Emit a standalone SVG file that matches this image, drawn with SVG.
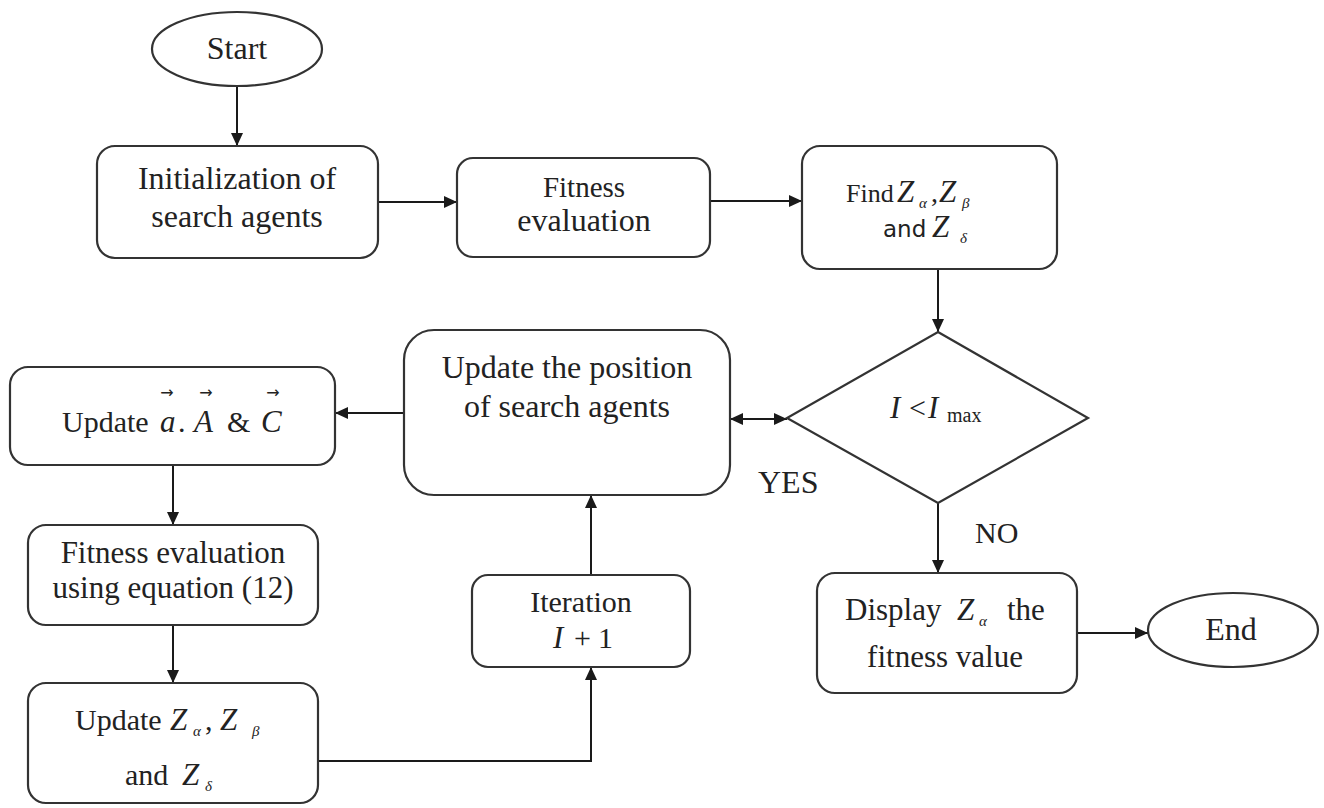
<svg xmlns="http://www.w3.org/2000/svg" width="1324" height="808" viewBox="0 0 1324 808">
<defs>
<marker id="ah" viewBox="0 0 13 12" refX="13" refY="6" markerWidth="13" markerHeight="12" markerUnits="userSpaceOnUse" orient="auto-start-reverse">
<path d="M0,0 L13,6 L0,12 z" fill="#1a1a1a"/>
</marker>
<style>
.box{fill:#fff;stroke:#333;stroke-width:2.2}
.ln{fill:none;stroke:#1a1a1a;stroke-width:2}
.t{font-family:"Liberation Serif","Times New Roman",serif;font-size:32px;fill:#222}
.s{font-family:"DejaVu Sans",Verdana,sans-serif;font-size:23px;fill:#222}
.m{font-family:"Liberation Serif","Times New Roman",serif;font-style:italic;font-size:31px;fill:#222}
.sub{font-size:15px}
.ar{font-family:"DejaVu Sans",sans-serif;font-size:16px;fill:#222}
</style>
</defs>
<rect width="1324" height="808" fill="#fff"/>

<g id="connectors">
<line class="ln" x1="237" y1="86" x2="237" y2="146" marker-end="url(#ah)"/>
<line class="ln" x1="378" y1="202" x2="457" y2="202" marker-end="url(#ah)"/>
<line class="ln" x1="710" y1="201" x2="802" y2="201" marker-end="url(#ah)"/>
<line class="ln" x1="938" y1="269" x2="938" y2="332" marker-end="url(#ah)"/>
<line class="ln" x1="730" y1="419" x2="787" y2="419" marker-start="url(#ah)" marker-end="url(#ah)"/>
<line class="ln" x1="404" y1="413" x2="335" y2="413" marker-end="url(#ah)"/>
<line class="ln" x1="173" y1="465" x2="173" y2="525" marker-end="url(#ah)"/>
<line class="ln" x1="173" y1="625" x2="173" y2="683" marker-end="url(#ah)"/>
<polyline class="ln" points="318,761 591,761 591,667" marker-end="url(#ah)"/>
<line class="ln" x1="591" y1="575" x2="591" y2="495" marker-end="url(#ah)"/>
<line class="ln" x1="938" y1="503" x2="938" y2="573" marker-end="url(#ah)"/>
<line class="ln" x1="1077" y1="633" x2="1148" y2="633" marker-end="url(#ah)"/>
<text class="t" x="758" y="493">YES</text>
<text class="t" x="975" y="543" style="font-size:30px">NO</text>
</g>

<g id="start">
<ellipse class="box" cx="237" cy="49" rx="85" ry="37"/>
<text class="t" x="237" y="59" text-anchor="middle">Start</text>
</g>

<g id="init">
<rect class="box" x="97" y="146" width="281" height="112" rx="18"/>
<text class="t" x="237" y="189" text-anchor="middle">Initialization of</text>
<text class="t" x="237" y="227" text-anchor="middle">search agents</text>
</g>

<g id="fitness1">
<rect class="box" x="457" y="158" width="253" height="99" rx="16"/>
<text class="t" x="584" y="197" text-anchor="middle" style="font-size:29px">Fitness</text>
<text class="t" x="584" y="231" text-anchor="middle">evaluation</text>
</g>

<g id="find">
<rect class="box" x="802" y="146" width="255" height="123" rx="18"/>
<text class="t" x="846" y="202" style="font-size:26px">Find</text>
<text class="m" x="897" y="202">Z</text>
<text class="m sub" x="919" y="208">α</text>
<text class="t" x="931" y="202" style="font-size:28px">,</text>
<text class="m" x="939" y="202">Z</text>
<text class="m sub" x="962" y="208">β</text>
<text class="s" x="883" y="237">and</text>
<text class="m" x="932" y="237">Z</text>
<text class="m sub" x="960" y="243">δ</text>
</g>

<g id="decision">
<polygon class="box" points="938,332 1088,418 938,503 787,418"/>
<text class="m" x="890" y="418">I</text>
<text class="t" x="909" y="418" style="font-size:30px">&lt;</text>
<text class="m" x="928" y="418">I</text>
<text class="t" x="947" y="422" style="font-size:20px">max</text>
</g>

<g id="updatepos">
<rect class="box" x="404" y="330" width="326" height="165" rx="30"/>
<text class="t" x="567" y="378" text-anchor="middle">Update the position</text>
<text class="t" x="567" y="417" text-anchor="middle">of search agents</text>
</g>

<g id="updateaac">
<rect class="box" x="10" y="367" width="325" height="98" rx="18"/>
<text class="t" x="62" y="432" style="font-size:30px">Update</text>
<text class="m" x="160" y="432">a</text>
<text class="t" x="178" y="432" style="font-size:30px">.</text>
<text class="m" x="194" y="432">A</text>
<text class="t" x="227" y="432" style="font-size:30px">&amp;</text>
<text class="m" x="261" y="432">C</text>
<text class="ar" x="167" y="398" text-anchor="middle">→</text>
<text class="ar" x="206" y="398" text-anchor="middle">→</text>
<text class="ar" x="273" y="398" text-anchor="middle">→</text>
</g>

<g id="fitness2">
<rect class="box" x="28" y="525" width="290" height="100" rx="18"/>
<text class="t" x="173" y="563" text-anchor="middle" style="font-size:31px">Fitness evaluation</text>
<text class="t" x="173" y="598" text-anchor="middle" style="font-size:31px">using equation (12)</text>
</g>

<g id="updatez">
<rect class="box" x="28" y="683" width="290" height="120" rx="18"/>
<text class="t" x="75" y="730" style="font-size:30px">Update</text>
<text class="m" x="170" y="730">Z</text>
<text class="m sub" x="193" y="736">α</text>
<text class="t" x="205" y="730" style="font-size:30px">,</text>
<text class="m" x="220" y="730">Z</text>
<text class="m sub" x="252" y="736">β</text>
<text class="t" x="125" y="785" style="font-size:30px">and</text>
<text class="m" x="182" y="785">Z</text>
<text class="m sub" x="205" y="791">δ</text>
</g>

<g id="iteration">
<rect class="box" x="472" y="575" width="218" height="92" rx="16"/>
<text class="t" x="581" y="612" text-anchor="middle" style="font-size:30px">Iteration</text>
<text class="m" x="553" y="648">I</text>
<text class="t" x="574" y="648" style="font-size:30px">+</text>
<text class="t" x="598" y="648" style="font-size:30px">1</text>
</g>

<g id="display">
<rect class="box" x="817" y="573" width="260" height="120" rx="18"/>
<text class="t" x="845" y="620" style="font-size:31px">Display</text>
<text class="m" x="957" y="620">Z</text>
<text class="m sub" x="979" y="626">α</text>
<text class="t" x="1007" y="620" style="font-size:31px">the</text>
<text class="t" x="945" y="667" text-anchor="middle" style="font-size:31px">fitness value</text>
</g>

<g id="end">
<ellipse class="box" cx="1233" cy="630" rx="85" ry="37"/>
<text class="t" x="1231" y="640" text-anchor="middle">End</text>
</g>
</svg>
